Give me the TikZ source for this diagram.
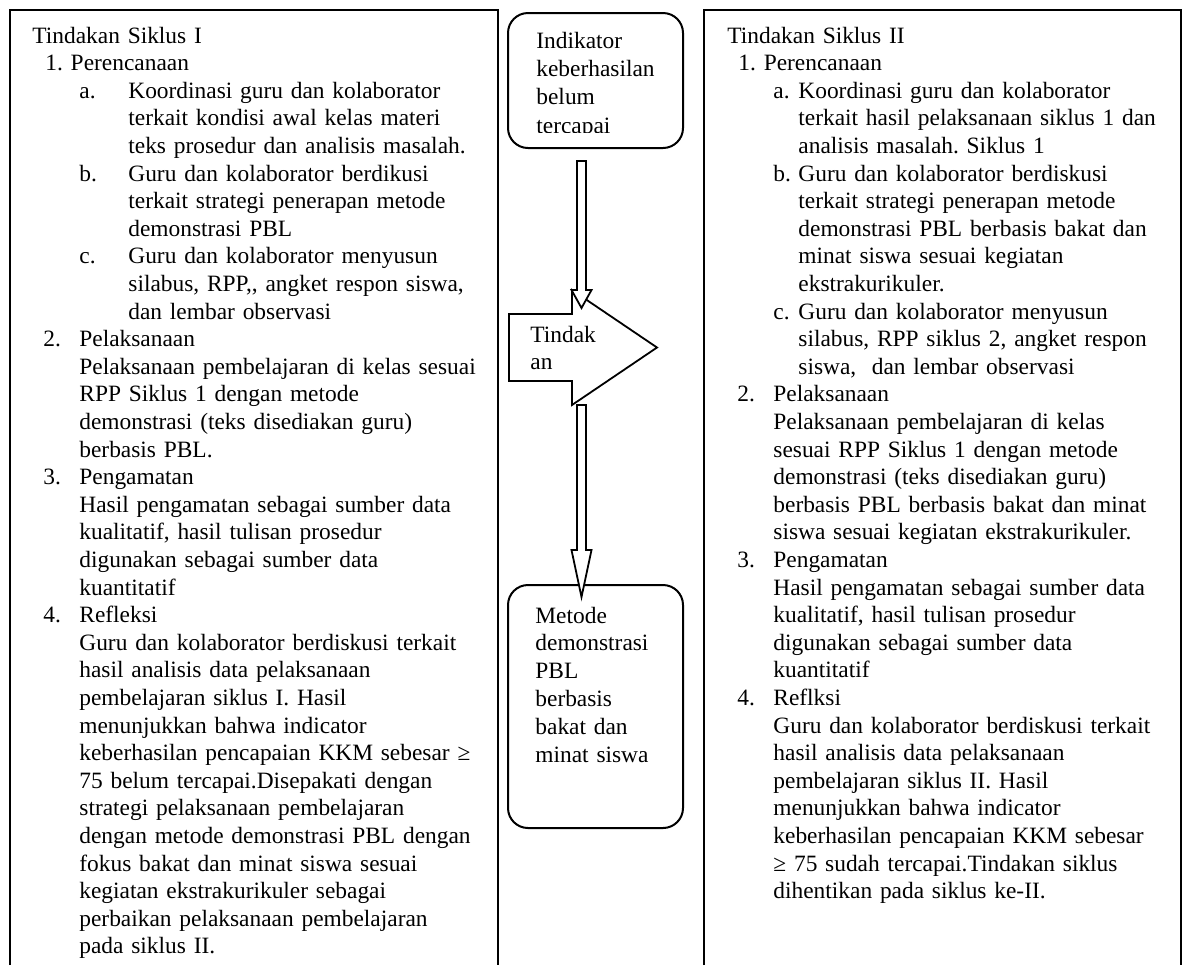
\documentclass[tikz,border=0pt]{standalone}
\usepackage{fontspec}
\setmainfont{Liberation Serif}
\usetikzlibrary{calc}
\tikzset{
  txt/.style={anchor=base west, align=left, text width=240pt, inner sep=0pt,
    font=\fontsize{11.7}{13.8}\selectfont\frenchspacing},
  colbox/.style={line width=1pt},
  rbox/.style={draw, line width=1pt, rounded corners=10pt, minimum width=87.5pt, inner sep=0pt},
  blk/.style={draw, fill=white, line width=0.9pt}
}
% hollow block arrow pointing down: start, tip, head length
\newcommand{\blkdown}[3]{%
  \draw[blk] ($(#1)+(-4.5,0)$) -- ($(#1)+(4.5,0)$) -- ($(#2)+(4.5,-#3)$)
    -- ($(#2)+(10,-#3)$) -- (#2) -- ($(#2)+(-10,-#3)$) -- ($(#2)+(-4.5,-#3)$) -- cycle;}

\begin{document}
\begin{tikzpicture}[x=0.5pt, y=-0.5pt]
  \useasboundingbox (0,0) rectangle (1186,965);
%% columns
  \draw[colbox] (10,965) -- (10,10) -- (498,10) -- (498,965);
  \draw[colbox] (704,965) -- (704,10) -- (1181,10) -- (1181,965);
%% left column
  \node[txt] (ttlI) at (32,43) {Tindakan Siklus I};
  \node[txt] (perI) at (45,70.6) {1. Perencanaan};
  \node[txt] (laI) at (79,98.2) {a.};
  \node[txt] (paI) at (128,98.2) {Koordinasi guru dan kolaborator\\terkait kondisi awal kelas materi\\teks prosedur dan analisis masalah.};
  \node[txt] (lbI) at (79,181) {b.};
  \node[txt] (pbI) at (128,181) {Guru dan kolaborator berdikusi\\terkait strategi penerapan metode\\demonstrasi PBL};
  \node[txt] (lcI) at (79,263.8) {c.};
  \node[txt] (pcI) at (128,263.8) {Guru dan kolaborator menyusun\\silabus, RPP,{}, angket respon siswa,\\dan lembar observasi};
  \node[txt] (ntwoI) at (43,346.6) {2.};
  \node[txt] (plI) at (79,346.6) {Pelaksanaan\\Pelaksanaan pembelajaran di kelas sesuai\\RPP Siklus 1 dengan metode\\demonstrasi (teks disediakan guru)\\berbasis PBL.};
  \node[txt] (nthrI) at (43,484.6) {3.};
  \node[txt] (pgI) at (79,484.6) {Pengamatan\\Hasil pengamatan sebagai sumber data\\kualitatif, hasil tulisan prosedur\\digunakan sebagai sumber data\\kuantitatif};
  \node[txt] (nfouI) at (43,622.6) {4.};
  \node[txt] (rfI) at (79,622.6) {Refleksi\\Guru dan kolaborator berdiskusi terkait\\hasil analisis data pelaksanaan\\pembelajaran siklus I. Hasil\\menunjukkan bahwa indicator\\keberhasilan pencapaian KKM sebesar ≥\\75 belum tercapai.Disepakati dengan\\strategi pelaksanaan pembelajaran\\dengan metode demonstrasi PBL dengan\\fokus bakat dan minat siswa sesuai\\kegiatan ekstrakurikuler sebagai\\perbaikan pelaksanaan pembelajaran\\pada siklus II.};
%% right column
  \node[txt] (ttlII) at (727,43) {Tindakan Siklus II};
  \node[txt] (perII) at (738,70.6) {1. Perencanaan};
  \node[txt] (laII) at (773,98.2) {a.};
  \node[txt] (paII) at (798,98.2) {Koordinasi guru dan kolaborator\\terkait hasil pelaksanaan siklus 1 dan\\analisis masalah. Siklus 1};
  \node[txt] (lbII) at (773,181) {b.};
  \node[txt] (pbII) at (798,181) {Guru dan kolaborator berdiskusi\\terkait strategi penerapan metode\\demonstrasi PBL berbasis bakat dan\\minat siswa sesuai kegiatan\\ekstrakurikuler.};
  \node[txt] (lcII) at (773,319) {c.};
  \node[txt] (pcII) at (798,319) {Guru dan kolaborator menyusun\\silabus, RPP siklus 2, angket respon\\siswa,\ \ dan lembar observasi};
  \node[txt] (ntwoII) at (737,401.8) {2.};
  \node[txt] (plII) at (773,401.8) {Pelaksanaan\\Pelaksanaan pembelajaran di kelas\\sesuai RPP Siklus 1 dengan metode\\demonstrasi (teks disediakan guru)\\berbasis PBL berbasis bakat dan minat\\siswa sesuai kegiatan ekstrakurikuler.};
  \node[txt] (nthrII) at (737,567.4) {3.};
  \node[txt] (pgII) at (773,567.4) {Pengamatan\\Hasil pengamatan sebagai sumber data\\kualitatif, hasil tulisan prosedur\\digunakan sebagai sumber data\\kuantitatif};
  \node[txt] (nfouII) at (737,705.4) {4.};
  \node[txt] (rfII) at (773,705.4) {Reflksi\\Guru dan kolaborator berdiskusi terkait\\hasil analisis data pelaksanaan\\pembelajaran siklus II. Hasil\\menunjukkan bahwa indicator\\keberhasilan pencapaian KKM sebesar\\≥ 75 sudah tercapai.Tindakan siklus\\dihentikan pada siklus ke-II.};
%% middle column
  \node[rbox, minimum height=67.5pt] (ind) at (595.5,80.5) {};
  \begin{scope}
    \clip (510,15) rectangle (681,132);
    \node[txt, font=\fontsize{11.7}{14.2}\selectfont] (indtxt) at (536,48) {Indikator\\keberhasilan\\belum\\tercapai};
  \end{scope}
  \node[rbox, minimum height=121.5pt] (met) at (595.5,706.5) {};
  \node[txt, font=\fontsize{11.7}{13.9}\selectfont] (mettxt) at (535,623) {Metode\\demonstrasi\\PBL\\berbasis\\bakat dan\\minat siswa};
  % Tindakan arrow
  \draw[blk] (509,314) -- (572,314) -- (572,290) -- (657,347.5) -- (572,405)
    -- (572,381) -- (509,381) -- cycle;
  \node[txt] (act) at (530,342) {Tindak\\an};
  % down arrows
  \coordinate (dones) at (581.5,161);
  \coordinate (donee) at (581.5,308);
  \coordinate (dtwos) at (581.5,405);
  \coordinate (dtwoe) at (581.5,597);
  \blkdown{dones}{donee}{18}
  \blkdown{dtwos}{dtwoe}{47}
\end{tikzpicture}
\end{document}
